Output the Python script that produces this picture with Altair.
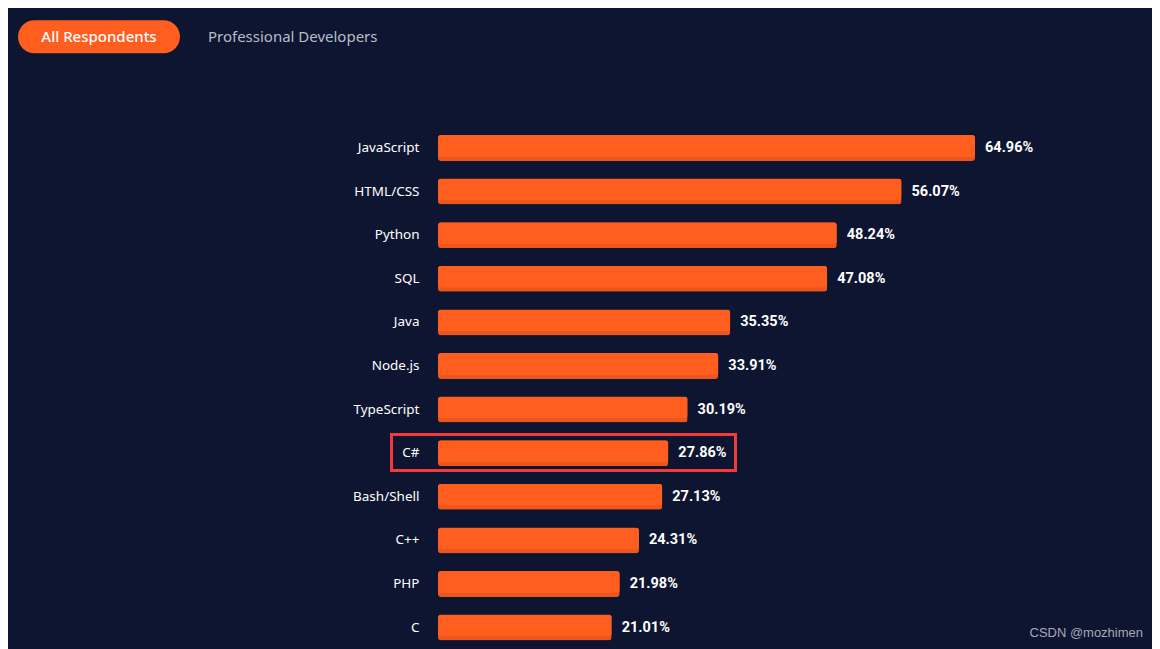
import altair as alt
import pandas as pd

languages = ["JavaScript", "HTML/CSS", "Python", "SQL", "Java", "Node.js",
             "TypeScript", "C#", "Bash/Shell", "C++", "PHP", "C"]
shares = [64.96, 56.07, 48.24, 47.08, 35.35, 33.91, 30.19, 27.86, 27.13, 24.31, 21.98, 21.01]

BG = "#0e1530"
ORANGE = "#ff5e1f"
ORANGE_DARK = "#ec561c"

df = pd.DataFrame({"lang": languages, "share": shares})

yenc = alt.Y("lang:N", sort=languages, title=None,
             scale=alt.Scale(paddingInner=0.4, paddingOuter=0.2),
             axis=alt.Axis(domain=False, ticks=False, labelColor="#ffffff",
                           labelFont="Noto Sans", labelFontSize=13.5,
                           labelPadding=19, grid=False))
xenc = alt.X("share:Q", title=None, scale=alt.Scale(domain=[0, 70]), axis=None)

base = alt.Chart(df)
bar_dark = base.mark_bar(color=ORANGE_DARK, size=26, cornerRadius=3).encode(x=xenc, y=yenc)
bar_light = base.mark_bar(color=ORANGE, size=22, cornerRadius=3, yOffset=-2).encode(x=xenc, y=yenc)
labels = base.transform_calculate(
    label="format(datum.share, '.2f') + '%'"
).mark_text(align="left", baseline="middle", dx=10, color="#ffffff",
            font="Roboto", fontWeight="bold", fontSize=14.5).encode(
    x=xenc, y=yenc, text="label:N")

one = pd.DataFrame({"a": [0]})
pill = alt.Chart(one).mark_rect(color=ORANGE, cornerRadius=17).encode(
    x=alt.value(-420), x2=alt.value(-258), y=alt.value(-106), y2=alt.value(-73))
pill_text = alt.Chart(one).mark_text(text="All Respondents", color="#ffffff", font="Noto Sans",
                                     fontSize=15, fontWeight=500, align="center",
                                     baseline="middle").encode(
    x=alt.value(-339), y=alt.value(-89))
prof_text = alt.Chart(one).mark_text(text="Professional Developers", color="#b9bdc9",
                                     font="Noto Sans", fontSize=15, align="left",
                                     baseline="middle").encode(
    x=alt.value(-230), y=alt.value(-89))
box = alt.Chart(one).mark_rect(fill=None, stroke="#f23a3a", strokeWidth=3).encode(
    x=alt.value(-46.5), x2=alt.value(297.5), y=alt.value(308.3), y2=alt.value(344.3))
watermark = alt.Chart(one).mark_text(text="CSDN @mozhimen", color="#a6aab4",
                                     font="Liberation Sans", fontSize=13, align="right",
                                     baseline="middle").encode(
    x=alt.value(705), y=alt.value(507))

chart = alt.layer(bar_dark, bar_light, labels, box, pill, pill_text, prof_text, watermark).properties(
    width=578.7, height=523.2,
    background=BG,
    padding={"left": 430, "top": 118.2, "right": 135, "bottom": 0},
    autosize=alt.AutoSizeParams(type="none"),
).configure_view(stroke=None)

chart.save("out.html", embed_options={"renderer": "svg", "actions": False})
